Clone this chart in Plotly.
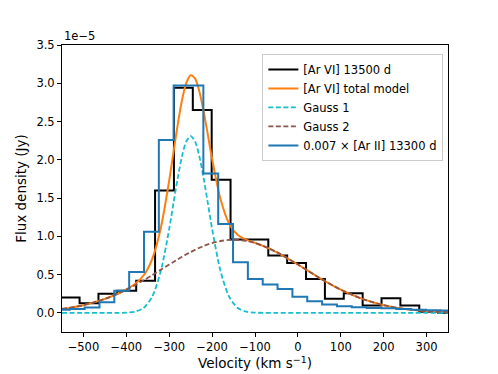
import plotly.graph_objects as go

# ---------------- data (flux in units of 1e-5 Jy) ----------------
# [Ar VI] 13500 d histogram: bin edges (km/s) and flux per bin
ARVI_EDGES = [-553, -509, -465, -421, -377, -333, -289, -245, -201, -157, -113,
              -69, -25, 19, 63, 107, 151, 195, 239, 283, 327, 371]
ARVI_FLUX = [0.20, 0.125, 0.25, 0.29, 0.42, 1.60, 2.94, 2.65, 1.74, 0.957, 0.957,
             0.75, 0.653, 0.444, 0.185, 0.255, 0.095, 0.19, 0.095, 0.015, 0.0]

# 0.007 x [Ar II] 13300 d histogram
ARII_EDGES = [-566.4, -531.8, -497.2, -462.6, -428.0, -393.4, -358.8, -324.2, -289.6,
              -255.0, -220.4, -185.8, -151.2, -116.6, -82.0, -47.4, -12.8, 21.8, 56.4,
              91.0, 125.6, 160.2, 194.8, 229.4, 264.0, 298.6, 333.2, 367.8]
ARII_FLUX = [0.04, 0.05, 0.07, 0.14, 0.29, 0.535, 1.06, 2.26, 2.97, 2.97, 1.82, 1.16,
             0.66, 0.444, 0.37, 0.313, 0.209, 0.151, 0.108, 0.086, 0.075, 0.065,
             0.06, 0.05, 0.04, 0.035, 0.03]

# model curves sampled on a velocity grid (km/s)
MODEL_VEL = [-550, -500, -450, -420, -400, -380, -360, -340, -320, -300, -290, -280,
             -270, -260, -250, -240, -230, -220, -210, -200, -180, -160, -140, -120,
             -100, -80, -50, 0, 50, 100, 150, 200, 250, 300, 350]
GAUSS1 = [0.0, 0.0, 0.0, 0.0, 0.003, 0.015, 0.063, 0.208, 0.538, 1.098, 1.435, 1.767,
          2.051, 2.242, 2.31, 2.242, 2.051, 1.767, 1.435, 1.098, 0.538, 0.208, 0.063,
          0.015, 0.003, 0.0, 0.0, 0.0, 0.0, 0.0, 0.0, 0.0, 0.0, 0.0, 0.0]
GAUSS2 = [0.0506, 0.1007, 0.183, 0.250, 0.303, 0.361, 0.425, 0.492, 0.562, 0.632,
          0.666, 0.700, 0.733, 0.765, 0.795, 0.823, 0.849, 0.873, 0.894, 0.912, 0.939,
          0.953, 0.953, 0.939, 0.912, 0.873, 0.795, 0.632, 0.458, 0.303, 0.183, 0.1007,
          0.0506, 0.0232, 0.0097]
TOTAL = [0.0506, 0.1007, 0.183, 0.250, 0.306, 0.376, 0.488, 0.700, 1.100, 1.730,
         2.101, 2.467, 2.784, 3.007, 3.105, 3.065, 2.900, 2.640, 2.329, 2.010, 1.477,
         1.161, 1.016, 0.954, 0.915, 0.873, 0.795, 0.632, 0.458, 0.303, 0.183, 0.1007,
         0.0506, 0.0232, 0.0097]

X_TICKS = [-500, -400, -300, -200, -100, 0, 100, 200, 300]
X_TICK_TEXT = ["\u2212500", "\u2212400", "\u2212300", "\u2212200", "\u2212100",
               "0", "100", "200", "300"]
Y_TICKS = [0.0, 0.5, 1.0, 1.5, 2.0, 2.5, 3.0, 3.5]
Y_TICK_TEXT = ["0.0", "0.5", "1.0", "1.5", "2.0", "2.5", "3.0", "3.5"]

FONT = "DejaVu Sans"

fig = go.Figure()

fig.add_trace(go.Scatter(
    x=ARVI_EDGES, y=ARVI_FLUX + [ARVI_FLUX[-1]], mode="lines", line_shape="hv",
    line=dict(color="black", width=2), name="[Ar VI] 13500 d"))
fig.add_trace(go.Scatter(
    x=MODEL_VEL, y=TOTAL, mode="lines", line_shape="spline",
    line=dict(color="#ff7f0e", width=2, smoothing=0.8), name="[Ar VI] total model"))
fig.add_trace(go.Scatter(
    x=MODEL_VEL, y=GAUSS1, mode="lines", line_shape="spline",
    line=dict(color="#17becf", width=1.8, dash="5px,2.5px", smoothing=0.8), name="Gauss 1"))
fig.add_trace(go.Scatter(
    x=MODEL_VEL, y=GAUSS2, mode="lines", line_shape="spline",
    line=dict(color="#8c564b", width=1.8, dash="5px,2.5px", smoothing=0.8), name="Gauss 2"))
fig.add_trace(go.Scatter(
    x=ARII_EDGES, y=ARII_FLUX + [ARII_FLUX[-1]], mode="lines", line_shape="hv",
    line=dict(color="#1f77b4", width=2), name="0.007 \u00d7 [Ar II] 13300 d"))

axis_common = dict(showgrid=False, zeroline=False, showline=True, linecolor="black",
                   linewidth=1, mirror=True, ticks="outside", ticklen=4, tickwidth=1,
                   tickcolor="black", automargin=False,
                   tickfont=dict(family=FONT, size=11.5, color="black"))

fig.update_xaxes(range=[-550, 350], tickvals=X_TICKS, ticktext=X_TICK_TEXT,
                 title=dict(text="Velocity (km s<sup>\u22121</sup>)",
                            font=dict(family=FONT, size=13.5, color="black"), standoff=4),
                 **axis_common)
fig.update_yaxes(range=[-0.25, 3.5], tickvals=Y_TICKS, ticktext=Y_TICK_TEXT,
                 title=dict(text="Flux density (Jy)",
                            font=dict(family=FONT, size=13.5, color="black"), standoff=6),
                 **axis_common)

fig.add_annotation(text="1e\u22125", xref="paper", yref="paper", x=0, y=1,
                   xanchor="left", yanchor="bottom", showarrow=False, yshift=0,
                   font=dict(family=FONT, size=11.5, color="black"))

# the page body adds an 8 px offset, so the margins are shifted by that amount
fig.update_layout(
    width=498, height=374,
    margin=dict(l=54, r=58, t=37, b=50, autoexpand=False),
    paper_bgcolor="white", plot_bgcolor="white",
    showlegend=True,
    legend=dict(x=0.988, y=0.969, xanchor="right", yanchor="top",
                bgcolor="rgba(255,255,255,0.8)", bordercolor="#cccccc", borderwidth=1,
                font=dict(family=FONT, size=11.5, color="black"),
                tracegroupgap=0, itemwidth=30),
)

fig.write_html("out.html")
